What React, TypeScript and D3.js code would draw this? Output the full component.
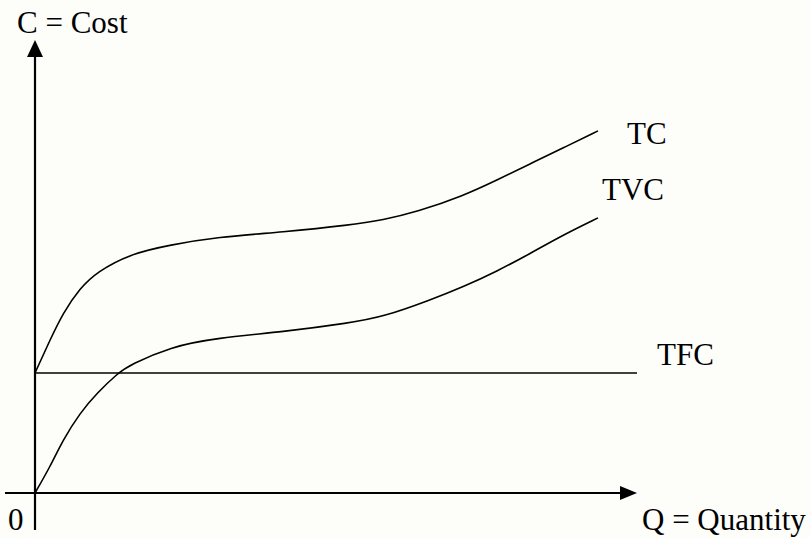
import React from "react";
import * as d3 from "d3";

const W = 810;
const H = 538;

// Quantity / cost values (arbitrary units)
const tcQ = [0, 3, 5.6, 9, 12.4, 19, 27, 36.4, 49.6, 63, 69.6, 76.4, 85.6, 92.4, 99, 105.6, 112.6];
const tcC = [40, 51, 60, 68.3, 73.7, 79.7, 82.7, 85.3, 87, 89.3, 91, 93.7, 99, 104.3, 109.7, 115, 120.7];

const tvcQ = [0, 3, 5.6, 9, 12.4, 16.6, 19, 27, 36.4, 49.6, 63, 69.6, 79, 85.6, 92.4, 99, 105.6, 112.6];
const tvcC = [0, 8.7, 17.7, 26.7, 33.3, 40, 42.7, 48.7, 51.7, 53.7, 56.7, 58.7, 64.3, 68.7, 73.9, 79.8, 86, 91.7];

const tfcQ = [0, 120.4];
const tfcC = [40, 40];

const curveLabels = ["TC", "TVC", "TFC"];
const yAxisLabel = "C = Cost";
const xAxisLabel = "Q = Quantity";
const originLabel = "0";

export default function App() {
  const x = d3.scaleLinear().domain([0, 120]).range([35, 635]);
  const y = d3.scaleLinear().domain([0, 150]).range([493, 43]);

  const line = d3
    .line<[number, number]>()
    .x((d) => x(d[0]))
    .y((d) => y(d[1]))
    .curve(d3.curveBasis);
  const straight = d3
    .line<[number, number]>()
    .x((d) => x(d[0]))
    .y((d) => y(d[1]));

  const tc = tcQ.map((q, i) => [q, tcC[i]] as [number, number]);
  const tvc = tvcQ.map((q, i) => [q, tvcC[i]] as [number, number]);
  const tfc = tfcQ.map((q, i) => [q, tfcC[i]] as [number, number]);

  const x0 = x(0);
  const y0 = y(0);
  const yTip = y(151);
  const xTip = x(120.4);

  return (
    <svg
      width={W}
      height={H}
      style={{ position: "absolute", left: 0, top: 0, background: "#fdfdfa" }}
    >
      {/* y axis with arrow */}
      <line x1={x0} x2={x0} y1={530} y2={yTip + 15} stroke="#000" strokeWidth={2.2} />
      <polygon
        points={`${x0},${yTip} ${x0 - 8},${yTip + 17} ${x0 + 8},${yTip + 17}`}
        fill="#000"
      />
      {/* x axis with arrow */}
      <line x1={5} x2={xTip - 15} y1={y0} y2={y0} stroke="#000" strokeWidth={2.2} />
      <polygon
        points={`${xTip},${y0} ${xTip - 17},${y0 - 7} ${xTip - 17},${y0 + 7}`}
        fill="#000"
      />

      <path d={straight(tfc) || ""} fill="none" stroke="#000" strokeWidth={1.6} />
      <path d={line(tc) || ""} fill="none" stroke="#000" strokeWidth={1.6} />
      <path d={line(tvc) || ""} fill="none" stroke="#000" strokeWidth={1.6} />

      <g fontSize={31} fontFamily="Liberation Serif" fill="#000">
        <text x={17} y={33}>{yAxisLabel}</text>
        <text x={627} y={144}>{curveLabels[0]}</text>
        <text x={602} y={200}>{curveLabels[1]}</text>
        <text x={657} y={365}>{curveLabels[2]}</text>
        <text x={8} y={530}>{originLabel}</text>
        <text x={642} y={530}>{xAxisLabel}</text>
      </g>
    </svg>
  );
}
